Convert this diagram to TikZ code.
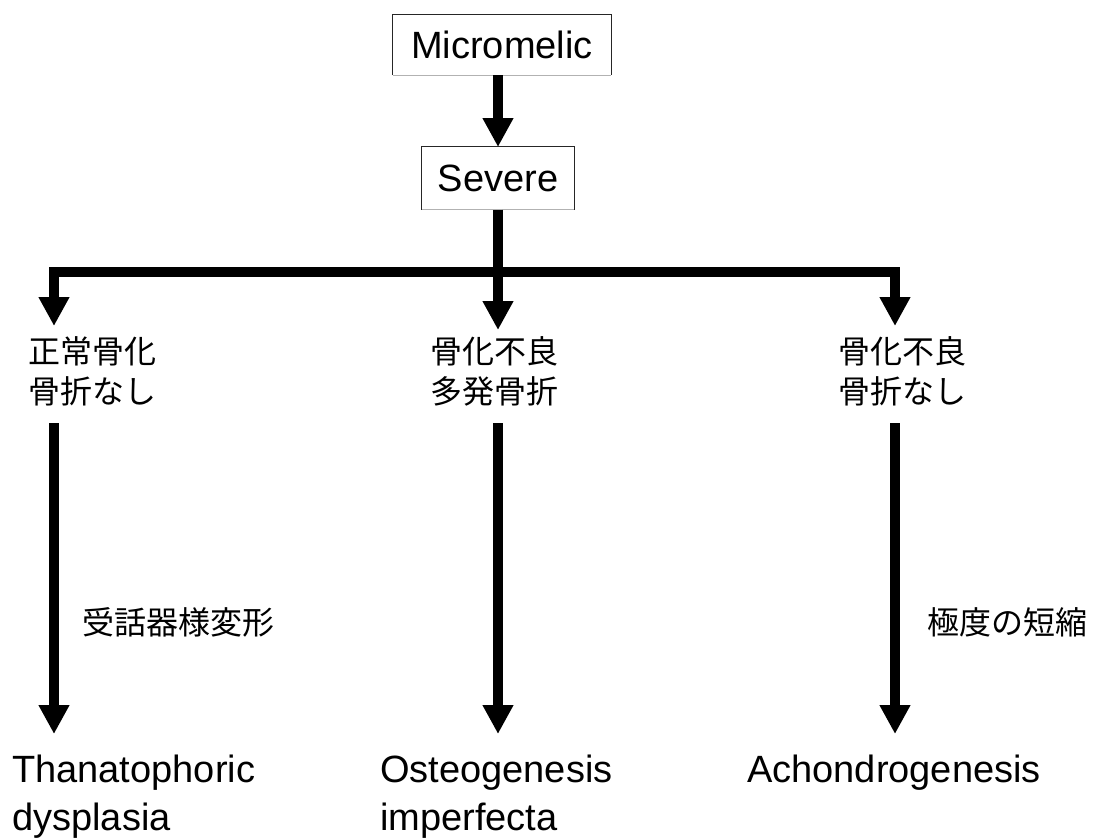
\documentclass[tikz,border=0pt]{standalone}
\usepackage{fontspec}
\setmainfont{Liberation Sans}
\newfontfamily\cjk{Noto Sans CJK JP}
\usetikzlibrary{arrows.meta}
\tikzset{
  en/.style={font=\fontsize{38}{48}\selectfont, inner sep=0pt, align=left},
  jp/.style={font=\cjk\fontsize{32}{40}\selectfont, inner sep=0pt, align=left},
  boxnode/.style={font=\fontsize{38}{46}\selectfont, minimum height=60pt, inner sep=0pt},
  boxline/.style={line width=1.3pt, draw=black!85},
  faint/.style={line width=1pt, draw=black!30},
  trunk/.style={line width=10pt, line join=miter},
  arr/.style={line width=10pt, line join=miter, -{Triangle[width=29pt,length=29pt]}},
}
\begin{document}
\begin{tikzpicture}[x=1pt,y=-1pt]
\useasboundingbox (0,0) rectangle (1096,839);
% boxes
\node[boxnode, minimum width=218pt] (m) at (502,45) {Micromelic};
\draw[boxline] (m.south west) |- (m.north east) -- (m.south east);
\draw[faint] (m.south west) -- (m.south east);
\node[boxnode, minimum width=152pt, minimum height=63pt] (s) at (498,178) {Severe};
\draw[boxline] (s.south west) |- (s.north east) -- (s.south east);
\draw[faint] (s.south west) -- (s.south east);
% category labels
\node[jp, anchor=north west] (c1) at (28,336) {正常骨化\\骨折なし};
\node[jp, anchor=north west] (c2) at (430,336) {骨化不良\\多発骨折};
\node[jp, anchor=north west] (c3) at (838,336) {骨化不良\\骨折なし};
% disease labels
\node[en, anchor=north west] (d1) at (12,755) {Thanatophoric\\dysplasia};
\node[en, anchor=north west] (d2) at (380,755) {Osteogenesis\\imperfecta};
\node[en, anchor=north west] (d3) at (747,755) {Achondrogenesis};
% edge labels
\node[jp, anchor=west] (l1) at (82,622) {受話器様変形};
\node[jp, anchor=west] (l3) at (927,622) {極度の短縮};
% coordinates
\coordinate (mb) at (498,75);
\coordinate (st) at (498,147);
\coordinate (j) at (498,272);
\coordinate (h1) at (54,326);
\coordinate (h2) at (498,330);
\coordinate (h3) at (895,326);
\coordinate (a1) at (54,423);
\coordinate (a2) at (498,423);
\coordinate (a3) at (895,423);
\coordinate (b1) at (54,734);
\coordinate (b2) at (498,734);
\coordinate (b3) at (895,734);
% connectors
\draw[arr] (mb) -- (st);
\draw[trunk] (s.south -| j) -- (j);
\draw[arr] (j) -| (h1);
\draw[arr] (j) -| (h3);
\draw[arr] (j) -- (h2);
\draw[arr] (a1) -- (b1);
\draw[arr] (a2) -- (b2);
\draw[arr] (a3) -- (b3);
\end{tikzpicture}
\end{document}
